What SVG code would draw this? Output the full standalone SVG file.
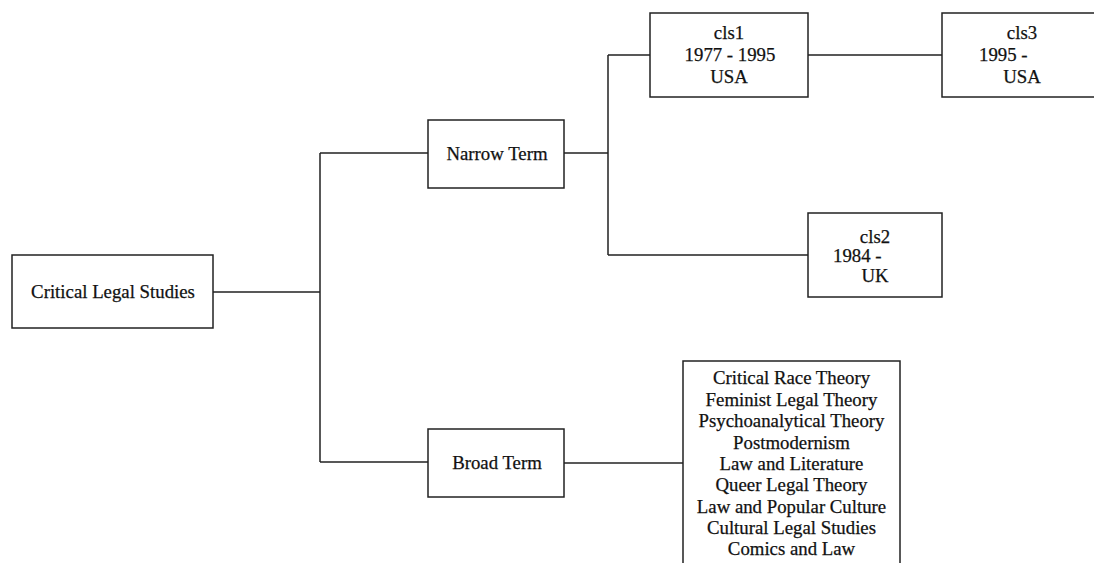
<svg xmlns="http://www.w3.org/2000/svg" width="1094" height="563" viewBox="0 0 1094 563">
<style>
.box{fill:#fff;stroke:#222;stroke-width:1.5}
.ln{fill:none;stroke:#222;stroke-width:1.5}
text{font-family:"Liberation Serif","Times New Roman",serif;font-size:18.8px;fill:#111;stroke:#111;stroke-width:0.25}
.c{text-anchor:middle}
</style>
<rect width="1094" height="563" fill="#fff"/>
<g id="connectors">
<path class="ln" d="M213,292 H320 M320,153 V462 M320,153 H428 M320,462 H428"/>
<path class="ln" d="M564,153 H608 M608,55 V255 M608,55 H650 M608,255 H808 M808,55 H942"/>
<path class="ln" d="M564,463 H683"/>
</g>
<g id="cls">
<rect class="box" x="12" y="255" width="201" height="73"/>
<text class="c" x="113" y="298">Critical Legal Studies</text>
</g>
<g id="narrow">
<rect class="box" x="428" y="120" width="136" height="68"/>
<text class="c" x="497" y="160">Narrow Term</text>
</g>
<g id="broad">
<rect class="box" x="428" y="429" width="136" height="68"/>
<text class="c" x="497" y="469">Broad Term</text>
</g>
<g id="cls1">
<rect class="box" x="650" y="13" width="158" height="84"/>
<text class="c" x="729" y="39">cls1</text>
<text class="c" x="730" y="61">1977 - 1995</text>
<text class="c" x="729" y="83">USA</text>
</g>
<g id="cls3">
<rect class="box" x="942" y="13" width="160" height="84"/>
<text class="c" x="1022" y="39">cls3</text>
<text x="979" y="61">1995 -</text>
<text class="c" x="1022" y="83">USA</text>
</g>
<g id="cls2">
<rect class="box" x="808" y="213" width="134" height="84"/>
<text class="c" x="875" y="243">cls2</text>
<text x="833" y="262">1984 -</text>
<text class="c" x="875" y="282">UK</text>
</g>
<g id="broadlist">
<rect class="box" x="683" y="361" width="217" height="220"/>
<text class="c" x="791.5" y="384">Critical Race Theory</text>
<text class="c" x="791.5" y="406">Feminist Legal Theory</text>
<text class="c" x="791.5" y="427">Psychoanalytical Theory</text>
<text class="c" x="791.5" y="449">Postmodernism</text>
<text class="c" x="791.5" y="470">Law and Literature</text>
<text class="c" x="791.5" y="491">Queer Legal Theory</text>
<text class="c" x="791.5" y="513">Law and Popular Culture</text>
<text class="c" x="791.5" y="534">Cultural Legal Studies</text>
<text class="c" x="791.5" y="555">Comics and Law</text>
</g>
</svg>
